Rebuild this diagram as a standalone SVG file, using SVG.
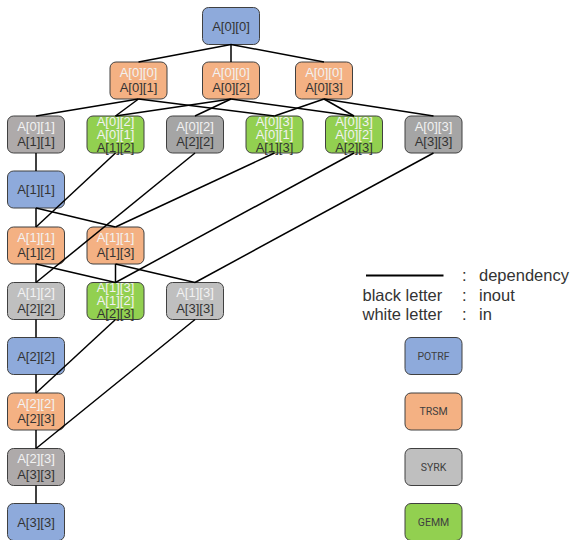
<svg xmlns="http://www.w3.org/2000/svg" width="571" height="540" viewBox="0 0 571 540">
<style>
.box{stroke:#404040;stroke-width:1}
.potrf{fill:#8eaadb}.trsm{fill:#f4b183}.g1{fill:#aeaaaa}.g2{fill:#a5a5a5}.g3{fill:#bfbfbf}.gemm{fill:#92d050}
text{font-family:"Liberation Sans",Arial,sans-serif;font-size:13px;text-anchor:middle}
.b{fill:#333333}.w{fill:#f2f2f2}
.lg{font-family:Roboto,"Liberation Sans",sans-serif;font-size:10.5px;fill:#404040}
.leg{font-size:16.5px;text-anchor:start;fill:#333333}
#edges line{stroke:#000;stroke-width:1.5}
</style>
<rect width="571" height="540" fill="#fff"/>
<g id="n00"><rect class="box potrf" x="202.5" y="7.5" width="57" height="37" rx="6"/><text class="b" x="231" y="30.5">A[0][0]</text></g>
<g id="t01"><rect class="box trsm" x="110" y="62" width="57" height="37" rx="6"/><text class="w" x="138.5" y="76.5">A[0][0]</text><text class="b" x="138.5" y="92">A[0][1]</text></g>
<g id="t02"><rect class="box trsm" x="202.5" y="62" width="57" height="37" rx="6"/><text class="w" x="231" y="76.5">A[0][0]</text><text class="b" x="231" y="92">A[0][2]</text></g>
<g id="t03"><rect class="box trsm" x="295.5" y="62" width="57" height="37" rx="6"/><text class="w" x="324" y="76.5">A[0][0]</text><text class="b" x="324" y="92">A[0][3]</text></g>
<g id="s11"><rect class="box g1" x="7.5" y="116" width="57" height="37" rx="6"/><text class="w" x="36" y="130.5">A[0][1]</text><text class="b" x="36" y="146">A[1][1]</text></g>
<g id="g12"><rect class="box gemm" x="87" y="116" width="57" height="37" rx="6"/><text class="w" x="115.5" y="125.5">A[0][2]</text><text class="w" x="115.5" y="138.5">A[0][1]</text><text class="b" x="115.5" y="151.5">A[1][2]</text></g>
<g id="s22a"><rect class="box g2" x="166.5" y="116" width="57" height="37" rx="6"/><text class="w" x="195" y="130.5">A[0][2]</text><text class="b" x="195" y="146">A[2][2]</text></g>
<g id="g13"><rect class="box gemm" x="246" y="116" width="57" height="37" rx="6"/><text class="w" x="274.5" y="125.5">A[0][3]</text><text class="w" x="274.5" y="138.5">A[0][1]</text><text class="b" x="274.5" y="151.5">A[1][3]</text></g>
<g id="g23a"><rect class="box gemm" x="325.5" y="116" width="57" height="37" rx="6"/><text class="w" x="354" y="125.5">A[0][3]</text><text class="w" x="354" y="138.5">A[0][2]</text><text class="b" x="354" y="151.5">A[2][3]</text></g>
<g id="s33a"><rect class="box g2" x="405" y="116" width="57" height="37" rx="6"/><text class="w" x="433.5" y="130.5">A[0][3]</text><text class="b" x="433.5" y="146">A[3][3]</text></g>
<g id="p11"><rect class="box potrf" x="7.5" y="171" width="57" height="37" rx="6"/><text class="b" x="36" y="194">A[1][1]</text></g>
<g id="t12"><rect class="box trsm" x="7.5" y="227" width="57" height="37" rx="6"/><text class="w" x="36" y="241.5">A[1][1]</text><text class="b" x="36" y="257">A[1][2]</text></g>
<g id="t13"><rect class="box trsm" x="87" y="227" width="57" height="37" rx="6"/><text class="w" x="115.5" y="241.5">A[1][1]</text><text class="b" x="115.5" y="257">A[1][3]</text></g>
<g id="s22b"><rect class="box g3" x="7.5" y="282.5" width="57" height="37" rx="6"/><text class="w" x="36" y="297">A[1][2]</text><text class="b" x="36" y="312.5">A[2][2]</text></g>
<g id="g23b"><rect class="box gemm" x="87" y="282.5" width="57" height="37" rx="6"/><text class="w" x="115.5" y="292">A[1][3]</text><text class="w" x="115.5" y="305">A[1][2]</text><text class="b" x="115.5" y="318">A[2][3]</text></g>
<g id="s33b"><rect class="box g3" x="166.5" y="282.5" width="57" height="37" rx="6"/><text class="w" x="195" y="297">A[1][3]</text><text class="b" x="195" y="312.5">A[3][3]</text></g>
<g id="p22"><rect class="box potrf" x="7.5" y="337.5" width="57" height="37" rx="6"/><text class="b" x="36" y="360.5">A[2][2]</text></g>
<g id="t23"><rect class="box trsm" x="7.5" y="393" width="57" height="37" rx="6"/><text class="w" x="36" y="407.5">A[2][2]</text><text class="b" x="36" y="423">A[2][3]</text></g>
<g id="s33c"><rect class="box g1" x="7.5" y="448.5" width="57" height="37" rx="6"/><text class="w" x="36" y="463">A[2][3]</text><text class="b" x="36" y="478.5">A[3][3]</text></g>
<g id="p33"><rect class="box potrf" x="7.5" y="503.5" width="57" height="37" rx="6"/><text class="b" x="36" y="526.5">A[3][3]</text></g>
<g id="edges">
<line x1="231" y1="44.5" x2="138.5" y2="62"/>
<line x1="231" y1="44.5" x2="231" y2="62"/>
<line x1="231" y1="44.5" x2="324" y2="62"/>
<line x1="138.5" y1="99" x2="36" y2="116"/>
<line x1="138.5" y1="99" x2="115.5" y2="116"/>
<line x1="138.5" y1="99" x2="274.5" y2="116"/>
<line x1="231" y1="99" x2="115.5" y2="116"/>
<line x1="231" y1="99" x2="195" y2="116"/>
<line x1="231" y1="99" x2="354" y2="116"/>
<line x1="324" y1="99" x2="274.5" y2="116"/>
<line x1="324" y1="99" x2="354" y2="116"/>
<line x1="324" y1="99" x2="433.5" y2="116"/>
<line x1="36" y1="153" x2="36" y2="171"/>
<line x1="115.5" y1="153" x2="36" y2="227"/>
<line x1="195" y1="153" x2="36" y2="282.5"/>
<line x1="274.5" y1="153" x2="115.5" y2="227"/>
<line x1="354" y1="153" x2="115.5" y2="282.5"/>
<line x1="433.5" y1="153" x2="195" y2="282.5"/>
<line x1="36" y1="208" x2="36" y2="227"/>
<line x1="36" y1="208" x2="115.5" y2="227"/>
<line x1="36" y1="264" x2="36" y2="282.5"/>
<line x1="36" y1="264" x2="115.5" y2="282.5"/>
<line x1="115.5" y1="264" x2="115.5" y2="282.5"/>
<line x1="115.5" y1="264" x2="195" y2="282.5"/>
<line x1="36" y1="319.5" x2="36" y2="337.5"/>
<line x1="115.5" y1="319.5" x2="36" y2="393"/>
<line x1="195" y1="319.5" x2="36" y2="448.5"/>
<line x1="36" y1="374.5" x2="36" y2="393"/>
<line x1="36" y1="430" x2="36" y2="448.5"/>
<line x1="36" y1="485.5" x2="36" y2="503.5"/>
</g>
<g id="legend">
<line x1="366" y1="275.5" x2="443.5" y2="275.5" stroke="#000" stroke-width="2"/>
<text class="leg" x="462" y="281">:</text>
<text class="leg" x="479" y="281">dependency</text>
<text class="leg" x="362.5" y="301">black letter</text>
<text class="leg" x="462" y="301">:</text>
<text class="leg" x="479" y="301">inout</text>
<text class="leg" x="362.5" y="319.5">white letter</text>
<text class="leg" x="462" y="319.5">:</text>
<text class="leg" x="479" y="319.5">in</text>
</g>
<g id="leg-potrf"><rect class="box potrf" x="405" y="337.5" width="57" height="37" rx="6"/><text class="lg" x="433.5" y="359.5">POTRF</text></g>
<g id="leg-trsm"><rect class="box trsm" x="405" y="393" width="57" height="37" rx="6"/><text class="lg" x="433.5" y="415">TRSM</text></g>
<g id="leg-syrk"><rect class="box g3" x="405" y="448.5" width="57" height="37" rx="6"/><text class="lg" x="433.5" y="470.5">SYRK</text></g>
<g id="leg-gemm"><rect class="box gemm" x="405" y="503.5" width="57" height="37" rx="6"/><text class="lg" x="433.5" y="525.5">GEMM</text></g>
</svg>
